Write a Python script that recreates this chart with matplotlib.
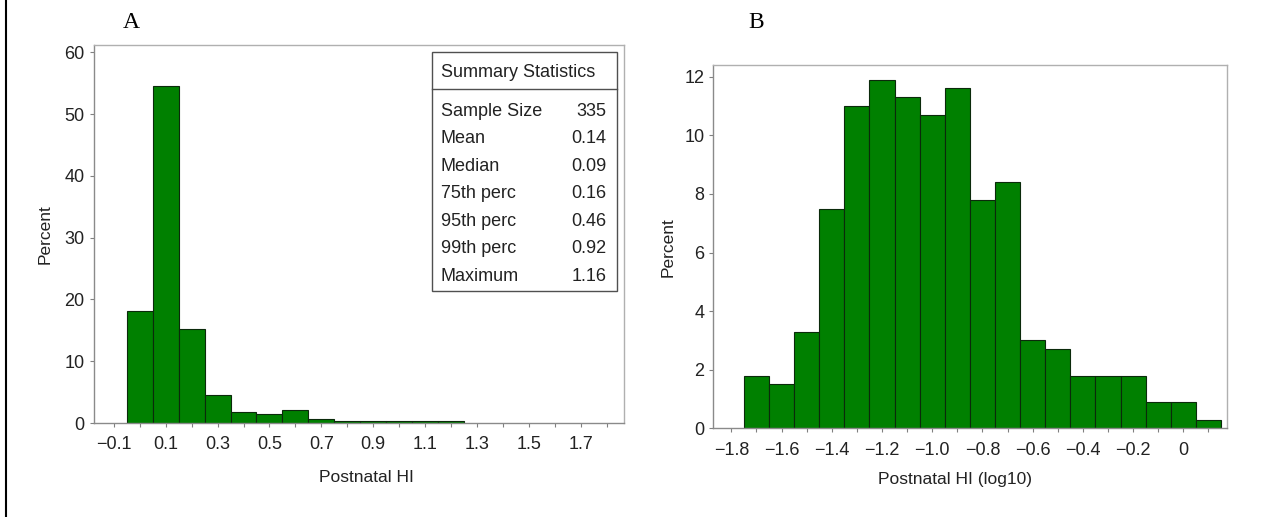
"""
Two histograms of postnatal HI: raw values (A) and log10 values (B)
"""
import matplotlib.pyplot as plt
from matplotlib.lines import Line2D
from matplotlib.patches import Rectangle

plt.rcParams['font.family'] = ['Liberation Sans', 'DejaVu Sans']

# panel A: bin midpoints and percent of subjects
a_mid = [0.0, 0.1, 0.2, 0.3, 0.4, 0.5, 0.6, 0.7, 0.8, 0.9, 1.0, 1.1, 1.2]
a_pct = [18.2, 54.6, 15.2, 4.5, 1.8, 1.5, 2.1, 0.6, 0.3, 0.3, 0.3, 0.3, 0.3]
a_ticks = [-0.1, 0.1, 0.3, 0.5, 0.7, 0.9, 1.1, 1.3, 1.5, 1.7]
a_ticklabels = ['\u22120.1', '0.1', '0.3', '0.5', '0.7', '0.9', '1.1', '1.3', '1.5', '1.7']
a_minor = [0.0, 0.2, 0.4, 0.6, 0.8, 1.0, 1.2, 1.4, 1.6, 1.8]
a_yticks = [0, 10, 20, 30, 40, 50, 60]

# panel B: log10 scale
b_mid = [-1.7, -1.6, -1.5, -1.4, -1.3, -1.2, -1.1, -1.0, -0.9, -0.8,
         -0.7, -0.6, -0.5, -0.4, -0.3, -0.2, -0.1, 0.0, 0.1]
b_pct = [1.8, 1.5, 3.3, 7.5, 11.0, 11.9, 11.3, 10.7, 11.6, 7.8,
         8.4, 3.0, 2.7, 1.8, 1.8, 1.8, 0.9, 0.9, 0.3]
b_ticks = [-1.8, -1.6, -1.4, -1.2, -1.0, -0.8, -0.6, -0.4, -0.2, 0.0]
b_ticklabels = ['\u22121.8', '\u22121.6', '\u22121.4', '\u22121.2', '\u22121.0',
                '\u22120.8', '\u22120.6', '\u22120.4', '\u22120.2', '0']
b_minor = [-1.7, -1.5, -1.3, -1.1, -0.9, -0.7, -0.5, -0.3, -0.1, 0.1]
b_yticks = [0, 2, 4, 6, 8, 10, 12]

stat_names = ['Sample Size', 'Mean', 'Median', '75th perc', '95th perc', '99th perc', 'Maximum']
stat_values = ['335', '0.14', '0.09', '0.16', '0.46', '0.92', '1.16']

W, H = 1283, 517
fig = plt.figure(figsize=(W / 100, H / 100), dpi=100)


def px_axes(left, top, right, bottom):
    return fig.add_axes([left / W, 1 - bottom / H, (right - left) / W, (bottom - top) / H])


def style(ax):
    for side in ['top', 'right']:
        ax.spines[side].set_color('#b0b0b0')
    for side in ['left', 'bottom']:
        ax.spines[side].set_color('#8a8a8a')
    for sp in ax.spines.values():
        sp.set_linewidth(1.0)
    ax.tick_params(axis='x', which='both', direction='out', length=3.2, width=0.8,
                   color='#808080', labelsize=13, pad=6.5, labelcolor='#222222')
    ax.tick_params(axis='y', direction='out', length=3.2, width=0.8,
                   color='#808080', labelsize=13, pad=3.2, labelcolor='#222222')


GREEN = '#008000'
EDGE = '#0b2a0b'

# ---- A ----
axA = px_axes(93.5, 45, 624, 423)
axA.bar(a_mid, a_pct, width=0.1, color=GREEN, edgecolor=EDGE, linewidth=0.8)
axA.set_xlim(-0.178, 1.866)
axA.set_ylim(0, 61.2)
axA.set_xticks(a_ticks)
axA.set_xticklabels(a_ticklabels)
axA.set_xticks(a_minor, minor=True)
axA.set_yticks(a_yticks)
style(axA)
axA.set_xlabel('Postnatal HI', fontsize=12.5, color='#222222', va='center')
axA.xaxis.set_label_coords(0.514, -0.143)
axA.set_ylabel('Percent', fontsize=12.5, color='#222222', va='center')
axA.yaxis.set_label_coords(-0.091, 0.5)

# summary statistics inset
x0, x1, y0, y1 = 0.6375, 0.9862, 0.349, 0.9815
axA.add_patch(Rectangle((x0, y0), x1 - x0, y1 - y0, transform=axA.transAxes,
                        fill=True, facecolor='white', edgecolor='#505050', linewidth=1.0))
axA.add_line(Line2D([x0, x1], [0.8828, 0.8828], transform=axA.transAxes,
                    color='#505050', linewidth=1.0))
axA.text(0.6545, 0.926, 'Summary Statistics', transform=axA.transAxes,
         fontsize=13, va='center', ha='left', color='#222222')
for i, (name, val) in enumerate(zip(stat_names, stat_values)):
    yy = 0.825 - i * 0.0727
    axA.text(0.6545, yy, name, transform=axA.transAxes, fontsize=13,
             va='center', ha='left', color='#222222')
    axA.text(0.9674, yy, val, transform=axA.transAxes, fontsize=13,
             va='center', ha='right', color='#222222')

# ---- B ----
axB = px_axes(713.3, 65, 1227.3, 428.3)
axB.bar(b_mid, b_pct, width=0.1, color=GREEN, edgecolor=EDGE, linewidth=0.8)
axB.set_xlim(-1.872, 0.175)
axB.set_ylim(0, 12.4)
axB.set_xticks(b_ticks)
axB.set_xticklabels(b_ticklabels)
axB.set_xticks(b_minor, minor=True)
axB.set_yticks(b_yticks)
style(axB)
axB.set_xlabel('Postnatal HI (log10)', fontsize=12.5, color='#222222', va='center')
axB.xaxis.set_label_coords(0.47, -0.142)
axB.set_ylabel('Percent', fontsize=12.5, color='#222222', va='center')
axB.yaxis.set_label_coords(-0.088, 0.5)

# panel letters
fig.text(131 / W, 1 - 22 / H, 'A', fontsize=17, family='Liberation Serif',
         ha='center', va='center')
fig.text(756 / W, 1 - 22 / H, 'B', fontsize=17, family='Liberation Serif',
         ha='center', va='center')

# left border line of the page
fig.add_artist(Line2D([6 / W, 6 / W], [0, 1], transform=fig.transFigure,
                      color='black', linewidth=1.5))

fig.savefig('out.png', dpi=100)
